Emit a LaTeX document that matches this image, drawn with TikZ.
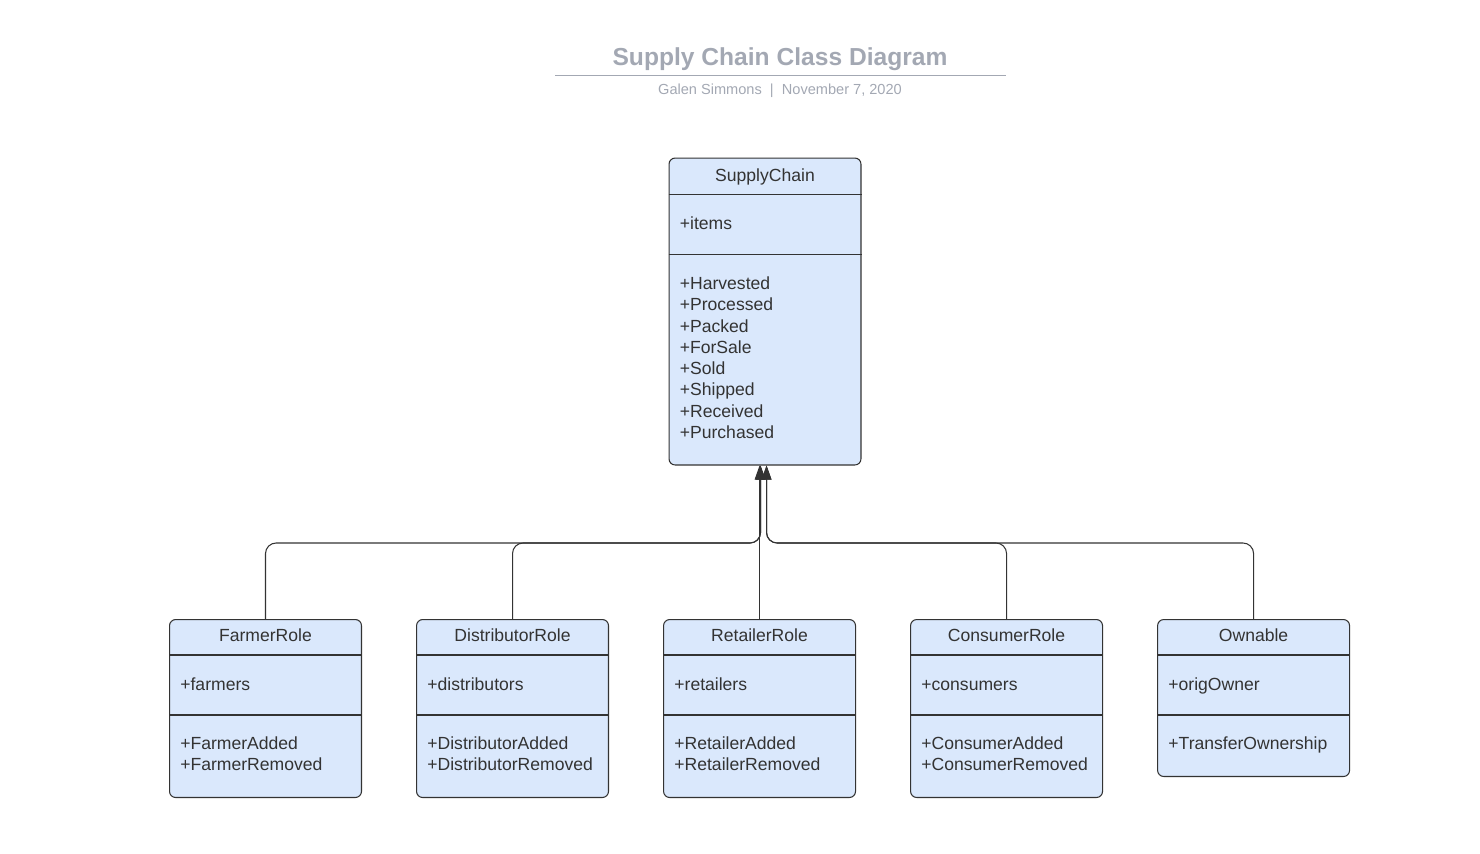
\documentclass[tikz,border=0pt]{standalone}
\usepackage{fontspec}
\setmainfont{Liberation Sans}
\usepackage{tikz}
\usetikzlibrary{calc, arrows.meta}

\definecolor{classfill}{HTML}{DAE8FC}
\definecolor{classline}{HTML}{333333}
\definecolor{titlegray}{HTML}{A3A8B3}

\tikzset{
	classbox/.style={draw=classline, fill=classfill, rectangle, rounded corners=3.5pt, line width=0.6pt, minimum width=3.84cm, inner sep=0pt},
	classname/.style={text=classline, font=\fontsize{10}{12.1}\selectfont, inner sep=0pt, text height=7.2pt, text depth=2.1pt},
	classtext/.style={text=classline, font=\fontsize{10}{12.1}\selectfont, inner sep=0pt, text height=7.2pt, text depth=2.1pt},
	classops/.style={text=classline, font=\fontsize{10}{12.1}\selectfont, inner sep=0pt, align=left},
	inherit/.style={draw=classline, line width=0.6pt, rounded corners=6pt, -{Triangle[length=8pt, width=5.5pt]}},
}

\begin{document}
\begin{tikzpicture}[x=0.02cm, y=-0.02cm]
		\useasboundingbox (0,0) rectangle (1480,853);

		% title
		\node (Title) at (780,59) [text=titlegray, font=\bfseries\fontsize{14}{17}\selectfont]{Supply Chain Class Diagram};
		\draw[titlegray, line width=0.5pt] (555,75) -- (1006,75);
		\node (Subtitle) at (780,90.5) [text=titlegray, font=\fontsize{8.3}{10}\selectfont]{Galen Simmons~~|~~November 7, 2020};

		% supply chain
		\node (SupplyChain) at (765,311.5) [classbox, minimum height=6.14cm]{};
		\draw[classline, line width=0.6pt] ($(SupplyChain.north west)+(0,37)$) -- ($(SupplyChain.north east)+(0,37)$);
		\draw[classline, line width=0.6pt] ($(SupplyChain.north west)+(0,97)$) -- ($(SupplyChain.north east)+(0,97)$);
		\node (SupplyChainName) at ($(SupplyChain.north)+(0,20)$) [classname]{SupplyChain};
		\node (SupplyChainAttr) at ($(SupplyChain.north west)+(11,68)$) [classtext, anchor=west]{+items};
		\node (SupplyChainOps) at ($(SupplyChain.north west)+(11,119)$) [classops, anchor=north west]{+Harvested\\+Processed\\+Packed\\+ForSale\\+Sold\\+Shipped\\+Received\\+Purchased};

		% roles
		\node (FarmerRole) at (169,619) [classbox, anchor=north west, minimum height=3.56cm]{};
		\node (DistributorRole) at ($(FarmerRole.north east)+(54,0)$) [classbox, anchor=north west, minimum height=3.56cm]{};
		\node (RetailerRole) at ($(DistributorRole.north east)+(54,0)$) [classbox, anchor=north west, minimum height=3.56cm]{};
		\node (ConsumerRole) at ($(RetailerRole.north east)+(54,0)$) [classbox, anchor=north west, minimum height=3.56cm]{};
		\node (Ownable) at ($(ConsumerRole.north east)+(54,0)$) [classbox, anchor=north west, minimum height=3.14cm]{};

		\foreach \cls/\attr/\ops in {FarmerRole/farmers/{+FarmerAdded\\+FarmerRemoved}, DistributorRole/distributors/{+DistributorAdded\\+DistributorRemoved}, RetailerRole/retailers/{+RetailerAdded\\+RetailerRemoved}, ConsumerRole/consumers/{+ConsumerAdded\\+ConsumerRemoved}, Ownable/origOwner/{+TransferOwnership}}{
			\draw[classline, line width=0.6pt] ($(\cls.north west)+(0,36)$) -- ($(\cls.north east)+(0,36)$);
			\draw[classline, line width=0.6pt] ($(\cls.north west)+(0,96)$) -- ($(\cls.north east)+(0,96)$);
			\node (\cls Name) at ($(\cls.north)+(0,18)$) [classname]{\cls};
			\node (\cls Attr) at ($(\cls.north west)+(11,67)$) [classtext, anchor=west]{+\attr};
			\node (\cls Ops) at ($(\cls.north west)+(11,117)$) [classops, anchor=north west]{\ops};
		}

		% inheritance
		\coordinate (JoinLeft) at ($(RetailerRole.north |- 0,543)+(1,0)$);
		\coordinate (JoinRight) at ($(JoinLeft)+(6,0)$);
		\draw[inherit] (FarmerRole.north) |- (JoinLeft) -- (JoinLeft |- SupplyChain.south);
		\draw[inherit] (DistributorRole.north) |- (JoinLeft) -- (JoinLeft |- SupplyChain.south);
		\draw[inherit] (RetailerRole.north) -- (RetailerRole.north |- SupplyChain.south);
		\draw[inherit] (ConsumerRole.north) |- (JoinRight) -- (JoinRight |- SupplyChain.south);
		\draw[inherit] (Ownable.north) |- (JoinRight) -- (JoinRight |- SupplyChain.south);
\end{tikzpicture}
\end{document}
